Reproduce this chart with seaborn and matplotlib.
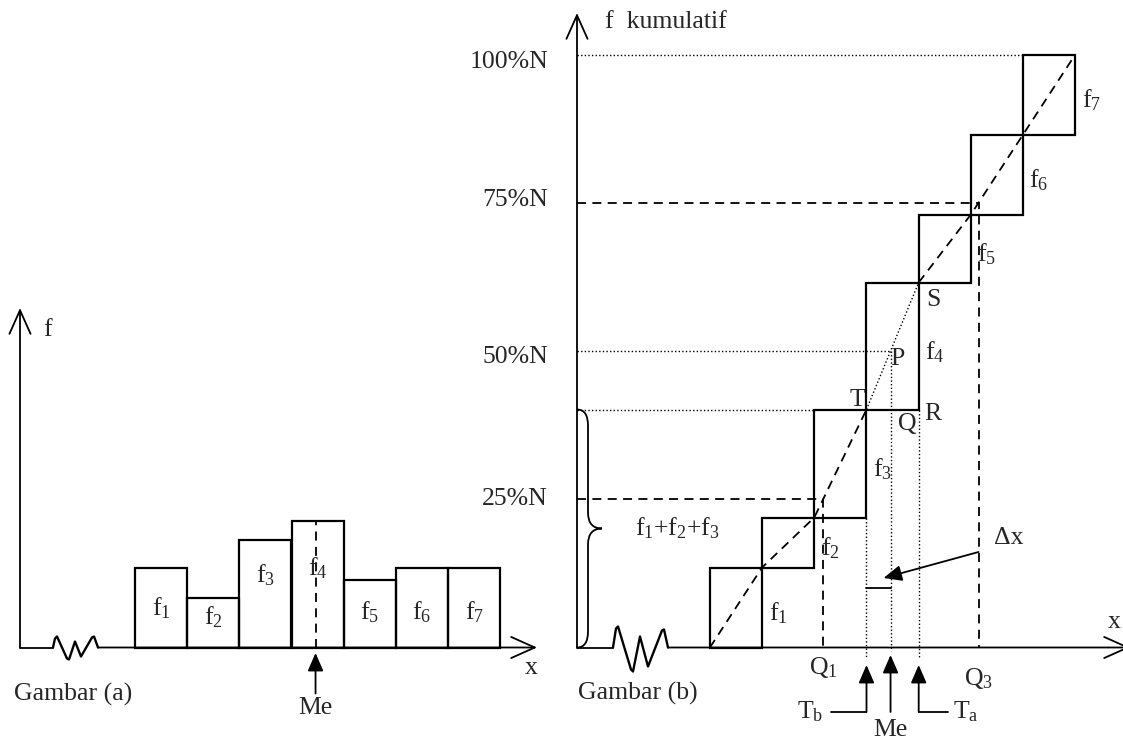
import numpy as np
import matplotlib.pyplot as plt
import seaborn as sns
from matplotlib.path import Path
from matplotlib.patches import PathPatch

# frequencies of the seven classes (same in both panels)
classes = ['f1', 'f2', 'f3', 'f4', 'f5', 'f6', 'f7']
freq = [8, 5, 10.8, 12.7, 6.8, 8, 8]
class_labels = [r'f$_1$', r'f$_2$', r'f$_3$', r'f$_4$', r'f$_5$', r'f$_6$', r'f$_7$']
pct_levels = [0.25, 0.50, 0.75, 1.00]
pct_labels = ['25%N', '50%N', '75%N', '100%N']

cum = np.cumsum(freq)
N = cum[-1]
edges = np.arange(len(freq) + 1) - 0.5
ogive_y = np.concatenate([[0], cum])


def quantile(p):
    return np.interp(p * N, ogive_y, edges)


q1, me, q3 = quantile(0.25), quantile(0.5), quantile(0.75)
k_me = int(np.searchsorted(cum, N / 2))
t_b, t_a = edges[k_me], edges[k_me + 1]

sns.set_theme(style='white')
plt.rcParams['font.family'] = ['Liberation Serif', 'DejaVu Serif']
plt.rcParams['mathtext.default'] = 'regular'
plt.rcParams['font.size'] = 18.5

fig = plt.figure(figsize=(11.23, 7.4), dpi=100)
SX, SY = 52.2, 10.0          # pixels per class / per unit of f
BASE = 647.5                 # baseline row in pixels
K = 'black'
LW = 1.3
DASH = (0, (5, 3.5))
DOT = (0, (1, 1.6))


def make_axes():
    ax = fig.add_axes([0, 0, 1, 1])
    ax.patch.set_alpha(0)
    return ax


def finish(ax, x_c0):
    ax.set_xlim(-x_c0 / SX, (1123 - x_c0) / SX)
    ax.set_ylim(-(740 - BASE) / SY, BASE / SY)
    ax.axis('off')


def arrow(ax, start, end, style, lw=LW):
    ax.annotate('', xy=end, xytext=start, annotation_clip=False,
                arrowprops=dict(arrowstyle=style, lw=lw, color=K,
                                shrinkA=0, shrinkB=0, mutation_scale=20))


OPEN = '->,head_length=0.85,head_width=0.38'
FILLED = '-|>,head_length=0.55,head_width=0.24'


def axes_lines(ax, x_axis, y_top, x_tip, squig_x, squig):
    arrow(ax, (x_axis, 0), (x_axis, y_top), OPEN)
    sx = [squig_x + a / SX for a, b in squig]
    sy = [b / SY for a, b in squig]
    ax.plot([x_axis, sx[0]], [0, 0], color=K, lw=LW)
    ax.plot(sx, sy, color=K, lw=LW * 1.3, solid_joinstyle='round')
    arrow(ax, (sx[-1], 0), (x_tip, 0), OPEN)


# ---------------- Gambar (a): histogram ----------------
ax_a = make_axes()
sns.barplot(x=classes, y=freq, width=1, fill=False, color=K,
            linewidth=1.6, errorbar=None, ax=ax_a)
finish(ax_a, 161)

xa = -141 / SX
axes_lines(ax_a, xa, 33.95, 376 / SX, -108 / SX,
           [(0, 0), (2, 9), (4, 11), (14, -11), (16, -12), (22, 6),
            (28, -9), (39, 10), (41, 11), (45, 0)])
label_y_a = [3.9, 3.0, 7.2, 7.9, 3.5, 3.5, 3.5]
for i, lab in enumerate(class_labels):
    ax_a.text(i, label_y_a[i], lab, ha='center', va='center')
ax_a.plot([me, me], [0, freq[k_me]], color=K, lw=LW, ls=DASH)
arrow(ax_a, (me, -4.6), (me, -0.55), FILLED)
ax_a.text(me, -6.05, 'Me', ha='center', va='center')
ax_a.text(xa + 23 / SX, 31.75, 'f', ha='left', va='center')
ax_a.text(370 / SX, -2.05, 'x', ha='center', va='center')
ax_a.text(xa - 6 / SX, -4.65, 'Gambar (a)', ha='left', va='center')

# ---------------- Gambar (b): cumulative ----------------
ax_b = make_axes()
ax_b.bar(range(len(freq)), freq, bottom=cum - np.array(freq), width=1,
         fill=False, edgecolor=K, linewidth=1.6)
finish(ax_b, 736)

xb = -159 / SX
axes_lines(ax_b, xb, 63.45, 394 / SX, -123 / SX,
           [(0, 0), (3, 19), (5, 21), (18, -22), (20, -24), (27, 11),
            (35, -19), (49, 17), (51, 18), (55, 0)])

# ogive: dashed, dotted across the median class
ax_b.plot(edges[:k_me + 1], ogive_y[:k_me + 1], color=K, lw=LW, ls=DASH)
ax_b.plot(edges[k_me:k_me + 2], ogive_y[k_me:k_me + 2], color=K, lw=1.0, ls=DOT)
ax_b.plot(edges[k_me + 1:], ogive_y[k_me + 1:], color=K, lw=LW, ls=DASH)

# quartile guides
for q, p in [(q1, 0.25), (q3, 0.75)]:
    ax_b.plot([xb, q, q], [p * N, p * N, 0], color=K, lw=LW, ls=DASH)
ax_b.plot([xb, edges[-2]], [N, N], color=K, lw=1.0, ls=DOT)
ax_b.plot([xb, me], [N / 2, N / 2], color=K, lw=1.0, ls=DOT)
ax_b.plot([xb, edges[k_me - 1]], [cum[k_me - 1]] * 2, color=K, lw=1.0, ls=DOT)
ax_b.plot([t_b, t_b], [cum[k_me - 2], -0.9], color=K, lw=1.0, ls=DOT)
ax_b.plot([me, me], [N / 2, -0.3], color=K, lw=1.0, ls=DOT)
ax_b.plot([t_a, t_a], [cum[k_me - 1], -0.9], color=K, lw=1.0, ls=DOT)

pct_label_dy = [0, 6, -3, 8]   # pixels below the guide line
for p, lab, dy in zip(pct_levels, pct_labels, pct_label_dy):
    ax_b.text(xb - 29 / SX, p * N - dy / SY, lab, ha='right', va='center')

# brace for f1+f2+f3
y0, y1 = 0, cum[k_me - 1]
ym = (y0 + y1) / 2
w1, w2, r = 11 / SX, 25 / SX, 1.6
verts = [(xb, y1), (xb + w1, y1), (xb + w1, y1 - r),
         (xb + w1, ym + r), (xb + w1, ym), (xb + w2, ym),
         (xb + w1, ym), (xb + w1, ym - r),
         (xb + w1, y0 + r), (xb + w1, y0), (xb, y0)]
codes = [Path.MOVETO, Path.CURVE3, Path.CURVE3,
         Path.LINETO, Path.CURVE3, Path.CURVE3,
         Path.CURVE3, Path.CURVE3,
         Path.LINETO, Path.CURVE3, Path.CURVE3]
ax_b.add_patch(PathPatch(Path(verts, codes), fill=False, color=K, lw=LW))
ax_b.text(xb + 58 / SX, ym, r'f$_1$+f$_2$+f$_3$', ha='left', va='center')

# class labels beside the steps
for i, lab in enumerate(class_labels):
    ax_b.text(edges[i + 1] + 16 / SX, cum[i] - freq[i] / 2 - 0.6, lab,
              ha='center', va='center')

# points T, P, Q, R, S
pts = [('T', t_b, cum[k_me - 1], -9, -10), ('P', me, N / 2, 7, 8),
       ('Q', me, cum[k_me - 1], 17, 15), ('R', t_a, cum[k_me - 1], 14, 5),
       ('S', t_a, cum[k_me], 15, 17)]
for name, x, y, dx, dy in pts:
    ax_b.text(x + dx / SX, y - dy / SY, name, ha='center', va='center')

# delta x
ax_b.plot([t_b, me], [5.95, 5.95], color=K, lw=LW)
arrow(ax_b, (me + 88 / SX, 9.55), (me - 7 / SX, 6.95), FILLED)
ax_b.text(me + 118 / SX, 10.95, 'Δx', ha='center', va='center')

# arrows under the axis
yb = -6.45
ax_b.plot([t_b - 35 / SX, t_b], [yb, yb], color=K, lw=LW)
arrow(ax_b, (t_b, yb), (t_b, -1.75), FILLED)
ax_b.plot([t_a, t_a + 29 / SX], [yb, yb], color=K, lw=LW)
arrow(ax_b, (t_a, yb), (t_a, -1.75), FILLED)
arrow(ax_b, (me, yb), (me, -0.75), FILLED)
ax_b.text(t_b - 56 / SX, yb, r'T$_b$', ha='center', va='center')
ax_b.text(t_a + 47 / SX, yb, r'T$_a$', ha='center', va='center')
ax_b.text(me, -8.25, 'Me', ha='center', va='center')
ax_b.text(q1, -1.95, r'Q$_1$', ha='center', va='center')
ax_b.text(q3, -3.1, r'Q$_3$', ha='center', va='center')

ax_b.text(xb + 28 / SX, 62.55, 'f  kumulatif', ha='left', va='center')
ax_b.text(385 / SX, 2.55, 'x', ha='right', va='center')
ax_b.text(xb + 1 / SX, -4.55, 'Gambar (b)', ha='left', va='center')

fig.savefig('out.png', dpi=100)
